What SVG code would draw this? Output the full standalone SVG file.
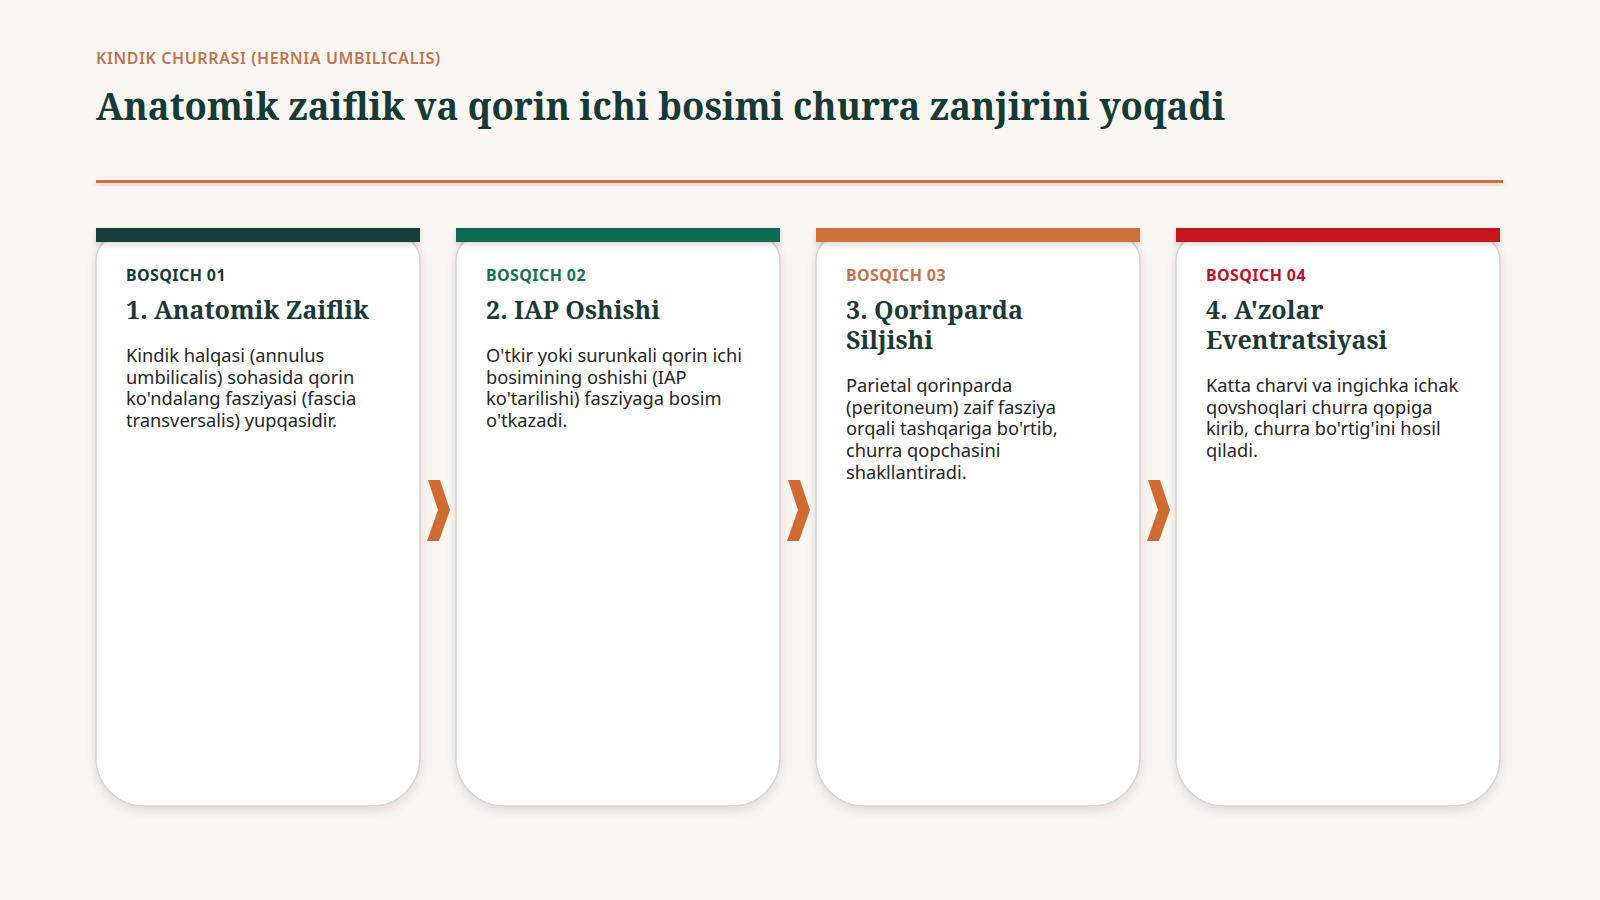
<svg xmlns="http://www.w3.org/2000/svg" width="1600" height="900" viewBox="0 0 1600 900">
<defs>
<filter id="sh" x="-10%" y="-10%" width="120%" height="120%">
<feDropShadow dx="0" dy="4" stdDeviation="5" flood-color="#3a2a20" flood-opacity="0.15"/>
</filter>
<filter id="shb" x="-5%" y="-50%" width="110%" height="250%">
<feDropShadow dx="0" dy="3" stdDeviation="2.5" flood-color="#3a2a20" flood-opacity="0.18"/>
</filter>
<style>
.kick{font-family:"Noto Sans","Liberation Sans",sans-serif;font-weight:600;font-size:16px;letter-spacing:0.6px;fill:#C0744E;}
.title{font-family:"Noto Serif","DejaVu Serif Condensed","DejaVu Serif",serif;font-weight:700;font-size:38px;fill:#163A35;}
.card{fill:#ffffff;stroke:#d8d4d0;stroke-width:1.6;}
.lbl{font-family:"Noto Sans","Liberation Sans",sans-serif;font-weight:700;font-size:16px;letter-spacing:0.4px;}
.hd{font-family:"Noto Serif","DejaVu Serif Condensed","DejaVu Serif",serif;font-weight:700;font-size:25px;fill:#1B3A36;}
.bd{font-family:"Noto Sans","Liberation Sans",sans-serif;font-size:18.3px;fill:#262626;}
.chev{fill:#CF6A33;}
</style>
</defs>
<rect width="1600" height="900" fill="#FAF7F3"/>
<g id="header">
<text class="kick" x="96" y="64">KINDIK CHURRASI (HERNIA UMBILICALIS)</text>
<text class="title" x="96" y="120" textLength="1129" lengthAdjust="spacingAndGlyphs">Anatomik zaiflik va qorin ichi bosimi churra zanjirini yoqadi</text>
<rect x="96" y="180" width="1407" height="3" fill="#D2703A" filter="url(#shb)"/>
</g>
<g id="step1">
<path class="card" filter="url(#sh)" d="M120,236 H396 A24,24 0 0 1 420,260 V758 A48,48 0 0 1 372,806 H144 A48,48 0 0 1 96,758 V260 A24,24 0 0 1 120,236 Z"/>
<rect x="96" y="228" width="324" height="14" fill="#153D3B" filter="url(#shb)"/>
<text class="lbl" x="126" y="281" fill="#173A38">BOSQICH 01</text>
<text class="hd" x="126" y="319">1. Anatomik Zaiflik</text>
<text class="bd" x="126" y="362"><tspan x="126">Kindik halqasi (annulus</tspan><tspan x="126" dy="21.7">umbilicalis) sohasida qorin</tspan><tspan x="126" dy="21.7">ko'ndalang fasziyasi (fascia</tspan><tspan x="126" dy="21.7">transversalis) yupqasidir.</tspan></text>
</g>
<g id="step2">
<path class="card" filter="url(#sh)" d="M480,236 H756 A24,24 0 0 1 780,260 V758 A48,48 0 0 1 732,806 H504 A48,48 0 0 1 456,758 V260 A24,24 0 0 1 480,236 Z"/>
<rect x="456" y="228" width="324" height="14" fill="#0F6B55" filter="url(#shb)"/>
<text class="lbl" x="486" y="281" fill="#16705A">BOSQICH 02</text>
<text class="hd" x="486" y="319">2. IAP Oshishi</text>
<text class="bd" x="486" y="362"><tspan x="486">O'tkir yoki surunkali qorin ichi</tspan><tspan x="486" dy="21.7">bosimining oshishi (IAP</tspan><tspan x="486" dy="21.7">ko'tarilishi) fasziyaga bosim</tspan><tspan x="486" dy="21.7">o'tkazadi.</tspan></text>
</g>
<g id="step3">
<path class="card" filter="url(#sh)" d="M840,236 H1116 A24,24 0 0 1 1140,260 V758 A48,48 0 0 1 1092,806 H864 A48,48 0 0 1 816,758 V260 A24,24 0 0 1 840,236 Z"/>
<rect x="816" y="228" width="324" height="14" fill="#CF6F3A" filter="url(#shb)"/>
<text class="lbl" x="846" y="281" fill="#C4744A">BOSQICH 03</text>
<text class="hd" x="846" y="319"><tspan x="846">3. Qorinparda</tspan><tspan x="846" dy="30">Siljishi</tspan></text>
<text class="bd" x="846" y="392"><tspan x="846">Parietal qorinparda</tspan><tspan x="846" dy="21.7">(peritoneum) zaif fasziya</tspan><tspan x="846" dy="21.7">orqali tashqariga bo'rtib,</tspan><tspan x="846" dy="21.7">churra qopchasini</tspan><tspan x="846" dy="21.7">shakllantiradi.</tspan></text>
</g>
<g id="step4">
<path class="card" filter="url(#sh)" d="M1200,236 H1476 A24,24 0 0 1 1500,260 V758 A48,48 0 0 1 1452,806 H1224 A48,48 0 0 1 1176,758 V260 A24,24 0 0 1 1200,236 Z"/>
<rect x="1176" y="228" width="324" height="14" fill="#C4161F" filter="url(#shb)"/>
<text class="lbl" x="1206" y="281" fill="#B8152B">BOSQICH 04</text>
<text class="hd" x="1206" y="319"><tspan x="1206">4. A'zolar</tspan><tspan x="1206" dy="30">Eventratsiyasi</tspan></text>
<text class="bd" x="1206" y="392"><tspan x="1206">Katta charvi va ingichka ichak</tspan><tspan x="1206" dy="21.7">qovshoqlari churra qopiga</tspan><tspan x="1206" dy="21.7">kirib, churra bo'rtig'ini hosil</tspan><tspan x="1206" dy="21.7">qiladi.</tspan></text>
</g>
<g id="connectors">
<polygon class="chev" points="428,480 440,480 450,510 439,541 427,541 438,510"/>
<polygon class="chev" points="788,480 800,480 810,510 799,541 787,541 798,510"/>
<polygon class="chev" points="1148,480 1160,480 1170,510 1159,541 1147,541 1158,510"/>
</g>
</svg>
